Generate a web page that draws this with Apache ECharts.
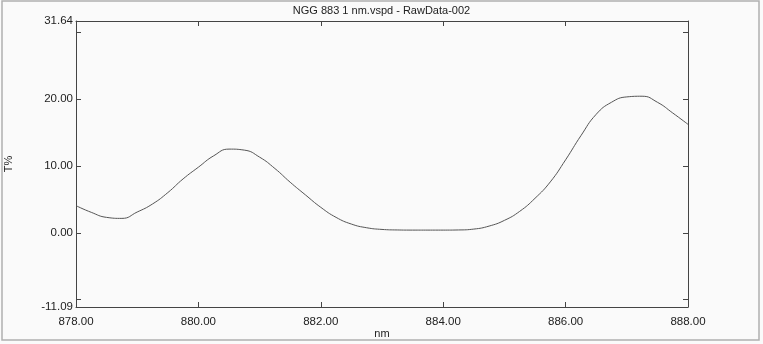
<!DOCTYPE html>
<html>
<head>
<meta charset="utf-8">
<script src="https://cdn.jsdelivr.net/npm/echarts@6/dist/echarts.min.js"></script>
<style>
html,body{margin:0;padding:0;background:#fafafa;}
#chart{width:763px;height:344px;}
</style>
</head>
<body>
<div id="chart"></div>
<script>
var titleText = 'NGG 883 1 nm.vspd - RawData-002';
var wavelength = [878.00, 878.25, 878.50, 878.75, 879.00, 879.25, 879.50, 879.75, 880.00, 880.25, 880.50, 880.75, 881.00, 881.25, 881.50, 881.75, 882.00, 882.25, 882.50, 882.75, 883.00, 883.25, 883.50, 883.75, 884.00, 884.25, 884.50, 884.75, 885.00, 885.25, 885.50, 885.75, 886.00, 886.25, 886.50, 886.75, 887.00, 887.25, 887.50, 887.75, 888.00];
var transmittance = [4.05, 3.05, 2.3, 2.15, 3.1, 4.3, 6.0, 8.05, 9.8, 11.5, 12.5, 12.35, 11.3, 9.6, 7.55, 5.65, 3.8, 2.3, 1.3, 0.75, 0.5, 0.42, 0.4, 0.4, 0.4, 0.42, 0.55, 1.0, 1.85, 3.2, 5.15, 7.6, 10.9, 14.5, 17.7, 19.5, 20.3, 20.4, 19.5, 17.9, 16.2];
var yLabelValues = [-11.09, 0, 10, 20, 31.64];
var yTickValues = [-10, 0, 10, 20, 30];
var xMin = 878, xMax = 888, xStep = 2;
var yMin = -11.09, yMax = 31.64;

var points = wavelength.map(function (x, i) { return [x, transmittance[i]]; });
var font = 'Liberation Sans, Arial, sans-serif';
var axisColor = '#444';
var chart = echarts.init(document.getElementById('chart'));
chart.setOption({
  backgroundColor: '#fafafa',
  animation: false,
  title: {
    text: titleText, left: 'center', top: 0,
    textStyle: { fontFamily: font, fontSize: 11, fontWeight: 'normal', color: '#222' }
  },
  grid: { left: 76, right: 75, top: 21, bottom: 37, containLabel: false, outerBoundsMode: 'none' },
  graphic: [{
    type: 'rect', shape: { x: 2, y: 1, width: 757, height: 339 },
    style: { fill: 'none', stroke: '#b0b0b0', lineWidth: 1.5 }, silent: true, z: -1
  }],
  xAxis: [{
    type: 'value', min: xMin, max: xMax, interval: xStep,
    name: 'nm', nameLocation: 'middle', nameGap: 21, nameMoveOverlap: false,
    nameTextStyle: { fontFamily: font, fontSize: 11, color: '#222' },
    axisLine: { onZero: false, lineStyle: { color: axisColor, width: 1 } },
    axisTick: { inside: true, length: 5, lineStyle: { color: axisColor } },
    axisLabel: { fontFamily: font, fontSize: 11.5, color: '#222', margin: 9, formatter: function (v) { return v.toFixed(2); } },
    splitLine: { show: false }
  }, {
    type: 'value', position: 'top', min: xMin, max: xMax, interval: xStep,
    axisLine: { onZero: false, lineStyle: { color: axisColor, width: 1 } },
    axisTick: { inside: true, length: 5, lineStyle: { color: axisColor } },
    axisLabel: { show: false }, splitLine: { show: false }
  }],
  yAxis: [{
    type: 'value', min: yMin, max: yMax,
    name: 'T%', nameLocation: 'middle', nameGap: 62, nameMoveOverlap: false,
    nameTextStyle: { fontFamily: font, fontSize: 11, color: '#222' },
    axisLine: { show: true, onZero: false, lineStyle: { color: axisColor, width: 1 } },
    axisTick: { show: true, inside: true, length: 5, customValues: yTickValues, lineStyle: { color: axisColor } },
    axisLabel: { fontFamily: font, fontSize: 11.5, color: '#222', margin: 3, customValues: yLabelValues, formatter: function (v) { return v.toFixed(2); } },
    splitLine: { show: false }
  }, {
    type: 'value', position: 'right', min: yMin, max: yMax,
    axisLine: { show: true, onZero: false, lineStyle: { color: axisColor, width: 1 } },
    axisTick: { show: true, inside: true, length: 5, customValues: yTickValues, lineStyle: { color: axisColor } },
    axisLabel: { show: false }, splitLine: { show: false }
  }],
  series: [{
    type: 'line', xAxisIndex: 0, yAxisIndex: 0, data: points,
    smooth: 0.5, showSymbol: false, symbol: 'none',
    lineStyle: { color: '#555', width: 1 }
  }]
});
</script>
</body>
</html>
